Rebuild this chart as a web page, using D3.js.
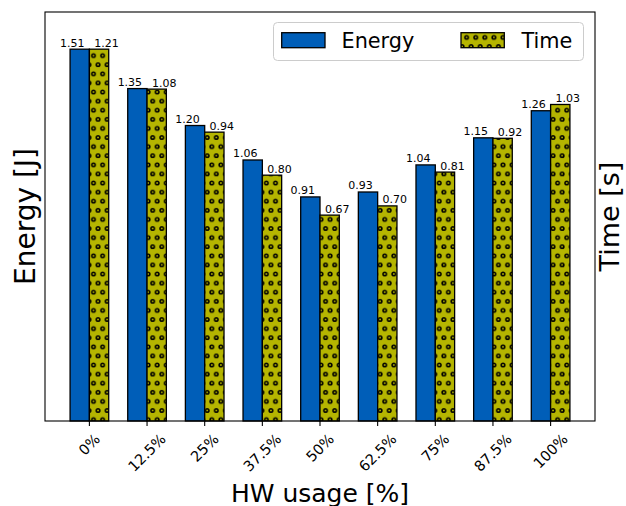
<!DOCTYPE html>
<html>
<head>
<meta charset="utf-8">
<script src="https://cdn.jsdelivr.net/npm/d3@7"></script>
<style>
  html, body { margin: 0; padding: 0; background: #ffffff; }
  svg { display: block; font-family: "DejaVu Sans", sans-serif; }
</style>
</head>
<body>
<svg id="chart" width="626" height="506"></svg>
<script>
// ---- data ----
const categories = ["0%", "12.5%", "25%", "37.5%", "50%", "62.5%", "75%", "87.5%", "100%"];
const energy = [1.51, 1.35, 1.20, 1.06, 0.91, 0.93, 1.04, 1.15, 1.26];
const time = [1.21, 1.08, 0.94, 0.80, 0.67, 0.70, 0.81, 0.92, 1.03];
const seriesNames = ["Energy", "Time"];

// ---- layout / style ----
const W = 626, H = 506;
const m = { left: 45, right: 595, top: 12, bottom: 421 };
const barW = 0.335;
const headroom = 1.1;
const blue = "#005eb8";
const olive = "#b5b500";

const svg = d3.select("#chart");
svg.append("rect").attr("width", W).attr("height", H).attr("fill", "#fff");

// hatch pattern (matplotlib 'o' style)
const defs = svg.append("defs");
const s = 9.1;
const pat = defs.append("pattern")
  .attr("id", "dots").attr("patternUnits", "userSpaceOnUse")
  .attr("width", s).attr("height", 2 * s)
  .attr("x", 2.5).attr("y", 1);
pat.append("rect").attr("width", s).attr("height", 2 * s).attr("fill", olive);
[[0, 0], [s, 0], [0, 2 * s], [s, 2 * s], [s / 2, s]].forEach(([cx, cy]) => {
  pat.append("circle").attr("cx", cx).attr("cy", cy).attr("r", 1.7)
    .attr("fill", "none").attr("stroke", "#000").attr("stroke-width", 1.6);
});

const x = d3.scaleLinear().domain([-0.77, categories.length - 1 + 0.77]).range([m.left, m.right]);
const yE = d3.scaleLinear().domain([0, d3.max(energy) * headroom]).range([m.bottom, m.top]);
const yT = d3.scaleLinear().domain([0, d3.max(time) * headroom]).range([m.bottom, m.top]);

const g = svg.append("g");

// energy bars
g.selectAll("rect.e").data(energy).join("rect")
  .attr("class", "e")
  .attr("x", (d, i) => x(i - barW))
  .attr("width", x(barW) - x(0))
  .attr("y", d => yE(d))
  .attr("height", d => m.bottom - yE(d))
  .attr("fill", blue).attr("stroke", "#000").attr("stroke-width", 1.3);

// time bars
g.selectAll("rect.t").data(time).join("rect")
  .attr("class", "t")
  .attr("x", (d, i) => x(i))
  .attr("width", x(barW) - x(0))
  .attr("y", d => yT(d))
  .attr("height", d => m.bottom - yT(d))
  .attr("fill", "url(#dots)").attr("stroke", "#000").attr("stroke-width", 1.3);

// value labels
g.selectAll("text.el").data(energy).join("text")
  .attr("class", "el")
  .attr("x", (d, i) => x(i - barW / 2) - 7.5)
  .attr("y", d => yE(d) - 2.5)
  .attr("text-anchor", "middle").attr("font-size", 11).attr("fill", "#000")
  .text(d => d.toFixed(2));
g.selectAll("text.tl").data(time).join("text")
  .attr("class", "tl")
  .attr("x", (d, i) => x(i + barW / 2) + 7.5)
  .attr("y", d => yT(d) - 2.5)
  .attr("text-anchor", "middle").attr("font-size", 11).attr("fill", "#000")
  .text(d => d.toFixed(2));

// frame
svg.append("rect")
  .attr("x", m.left).attr("y", m.top)
  .attr("width", m.right - m.left).attr("height", m.bottom - m.top)
  .attr("fill", "none").attr("stroke", "#000").attr("stroke-width", 1.1);

// x ticks
const ticks = svg.append("g");
categories.forEach((c, i) => {
  ticks.append("line")
    .attr("x1", x(i)).attr("x2", x(i))
    .attr("y1", m.bottom).attr("y2", m.bottom + 5)
    .attr("stroke", "#000").attr("stroke-width", 1.1);
  const gg = ticks.append("g");
  const t = gg.append("text").attr("font-size", 14.5).attr("fill", "#000").text(c);
  const bb = t.node().getBBox();
  const side = (bb.width + bb.height) * Math.SQRT1_2;
  const cx = x(i), cy = m.bottom + 9.8 + side / 2;
  t.attr("transform",
    `translate(${cx},${cy}) rotate(-45) translate(${-(bb.x + bb.width / 2)},${-(bb.y + bb.height / 2)})`);
});

// axis labels
svg.append("text")
  .attr("x", (m.left + m.right) / 2).attr("y", 501.5)
  .attr("text-anchor", "middle").attr("font-size", 25).text("HW usage [%]");
svg.append("text")
  .attr("transform", `translate(35,${(m.top + m.bottom) / 2}) rotate(-90)`)
  .attr("text-anchor", "middle").attr("font-size", 28).text("Energy [J]");
svg.append("text")
  .attr("transform", `translate(619,${(m.top + m.bottom) / 2}) rotate(-90)`)
  .attr("text-anchor", "middle").attr("font-size", 27).text("Time [s]");

// legend
const lg = svg.append("g");
lg.append("rect")
  .attr("x", 273.5).attr("y", 22.5).attr("width", 310).attr("height", 38)
  .attr("rx", 4).attr("ry", 4)
  .attr("fill", "#fff").attr("fill-opacity", 0.8)
  .attr("stroke", "#cccccc").attr("stroke-width", 1);
const legItems = [
  { name: seriesNames[0], fill: blue, px: 281.7, tx: 341.5 },
  { name: seriesNames[1], fill: "url(#dots)", px: 461, tx: 521.5 }
];
legItems.forEach(it => {
  lg.append("rect").attr("x", it.px).attr("y", 32.7).attr("width", 43.3).attr("height", 15)
    .attr("fill", it.fill).attr("stroke", "#000").attr("stroke-width", 1.3);
  lg.append("text").attr("x", it.tx).attr("y", 47.5).attr("font-size", 20.8).text(it.name);
});
</script>
</body>
</html>
